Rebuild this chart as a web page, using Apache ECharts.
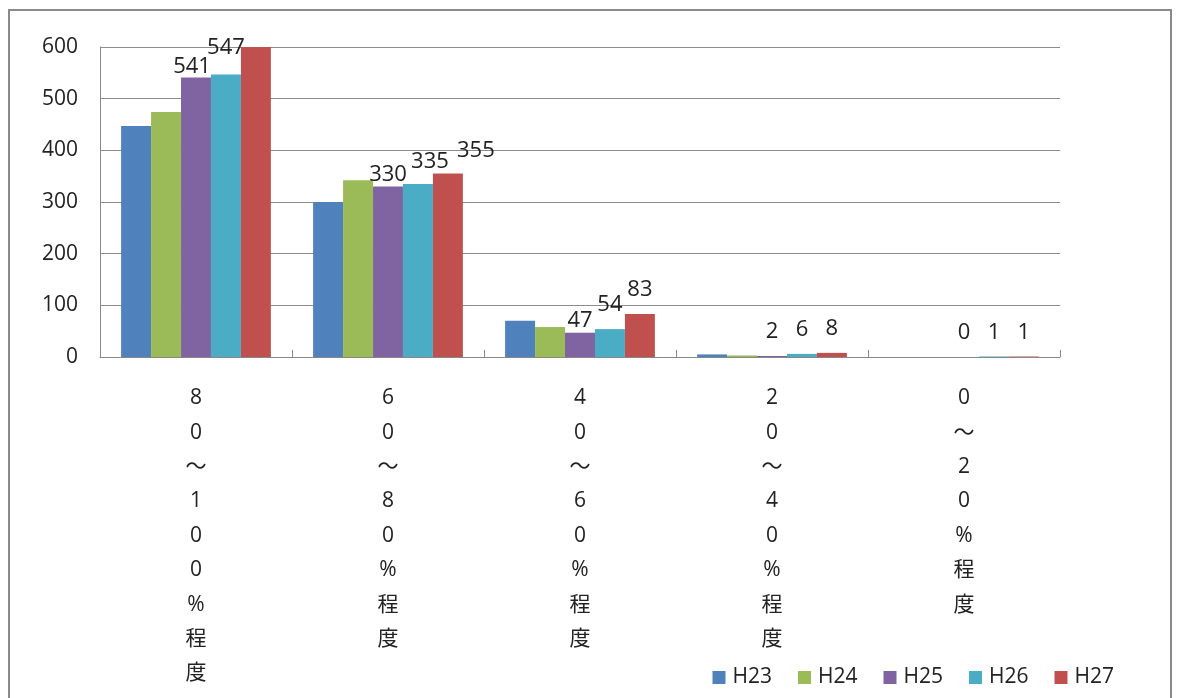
<!DOCTYPE html>
<html><head><meta charset="utf-8">
<script src="https://cdn.jsdelivr.net/npm/echarts@6/dist/echarts.min.js"></script>
<style>html,body{margin:0;padding:0;background:#fff}#c{width:1179px;height:698px}</style>
</head><body><div id="c"></div>
<script>
const categories = ['80～100%程度', '60～80%程度', '40～60%程度', '20～40%程度', '0～20%程度'];
const seriesNames = ['H23', 'H24', 'H25', 'H26', 'H27'];
const H23 = [447, 300, 70, 5, 0];
const H24 = [474, 342, 58, 3, 0];
const H25 = [541, 330, 47, 2, 0];
const H26 = [547, 335, 54, 6, 1];
const H27 = [600, 355, 83, 8, 1];
const yTicks = [0, 100, 200, 300, 400, 500, 600];
const colors = ['#4F81BD', '#9BBB59', '#8064A2', '#4BACC6', '#C0504D'];
const showLabels = [false, false, true, true, true];

// label placement style (Excel labels were nudged): [dx, dy] per series per category
const labelNudge = {
  2: [[-4, 1], [0, 0], [0, 0], [0, -12], [0, -12]],
  3: [[0, -15], [12, -10], [0, -12], [0, -12], [0, -12]],
  4: [null, [28, -11], [0, -12], [0, -12], [0, -12]]
};

const values = [H23, H24, H25, H26, H27];
const chart = echarts.init(document.getElementById('c'));
const numFont = "'Open Sans', 'Noto Sans CJK JP', sans-serif";

const series = seriesNames.map((name, i) => ({
  name,
  type: 'bar',
  barGap: '0%',
  barCategoryGap: '22%',
  itemStyle: { color: colors[i] },
  label: {
    show: showLabels[i],
    position: 'top',
    distance: 1,
    color: '#222',
    fontSize: 22,
    fontFamily: numFont
  },
  data: values[i].map((v, j) => {
    if (!showLabels[i]) return v;
    const n = labelNudge[i][j];
    if (n === null) return { value: v, label: { show: false } };
    return { value: v, label: { offset: n } };
  })
}));

chart.setOption({
  animation: false,
  graphic: [{
    type: 'rect',
    shape: { x: 9, y: 10, width: 1162, height: 700 },
    style: { fill: 'none', stroke: '#8a8a8a', lineWidth: 2 },
    silent: true
  }],
  grid: { left: 100, right: 119, top: 47, bottom: 341 },
  legend: {
    data: seriesNames,
    right: 60,
    bottom: 5,
    itemWidth: 13,
    itemHeight: 13,
    itemGap: 26,
    icon: 'rect',
    textStyle: { fontSize: 21, color: '#222', fontFamily: numFont, padding: [0, 0, 0, 2] }
  },
  xAxis: {
    type: 'category',
    data: categories,
    axisLine: { lineStyle: { color: '#888' } },
    axisTick: { show: true, inside: true, length: 7, lineStyle: { color: '#888' } },
    axisLabel: {
      interval: 0,
      margin: 24,
      fontSize: 21,
      lineHeight: 34.4,
      color: '#222',
      fontFamily: numFont,
      formatter: v => v.split('').join('\n')
    }
  },
  yAxis: {
    type: 'value',
    min: 0,
    max: 600,
    interval: 100,
    axisLine: { show: true, lineStyle: { color: '#888' } },
    axisTick: { show: false },
    splitLine: { lineStyle: { color: '#8c8c8c' } },
    axisLabel: {
      fontSize: 21,
      color: '#222',
      margin: 22,
      fontFamily: numFont,
      formatter: v => yTicks.includes(v) ? String(v) : ''
    }
  },
  series
});
</script></body></html>
